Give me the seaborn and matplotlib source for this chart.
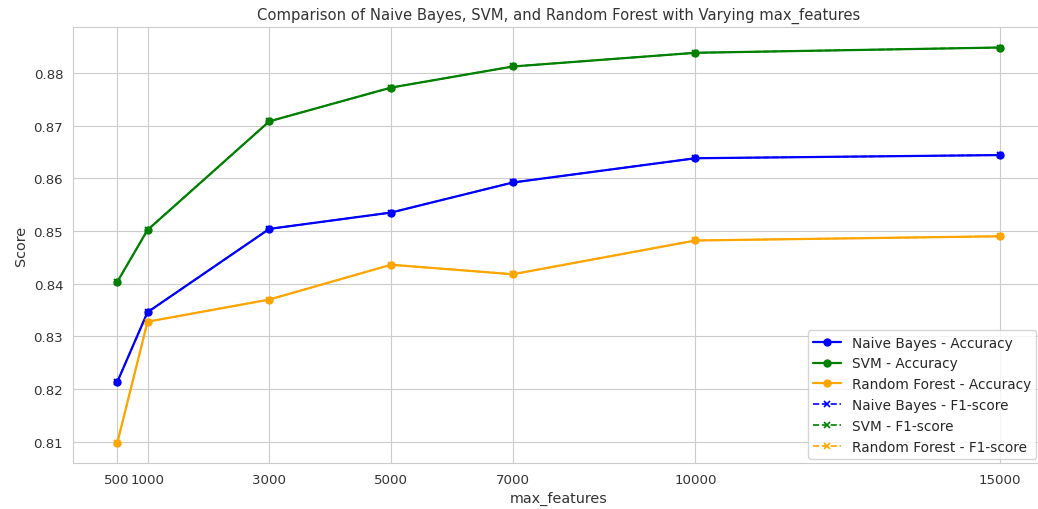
import matplotlib
matplotlib.use("Agg")
import matplotlib.pyplot as plt
import seaborn as sns

# max_features values tested
max_features = [500, 1000, 3000, 5000, 7000, 10000, 15000]

# accuracy per model
nb_acc  = [0.8213, 0.8346, 0.8504, 0.8535, 0.8592, 0.8638, 0.8644]
svm_acc = [0.8403, 0.8502, 0.8708, 0.8772, 0.8812, 0.8838, 0.8848]
rf_acc  = [0.8097, 0.8328, 0.8370, 0.8436, 0.8418, 0.8482, 0.8490]

# f1-score per model (sits right on top of the accuracy curves)
nb_f1  = [0.8213, 0.8346, 0.8504, 0.8535, 0.8592, 0.8638, 0.8644]
svm_f1 = [0.8403, 0.8502, 0.8708, 0.8772, 0.8812, 0.8838, 0.8848]
rf_f1  = [0.8097, 0.8328, 0.8370, 0.8436, 0.8418, 0.8482, 0.8490]

models = ["Naive Bayes", "SVM", "Random Forest"]
COLORS = {"Naive Bayes": "blue", "SVM": "green", "Random Forest": "orange"}

sns.set_style("whitegrid")
plt.rcParams["font.family"] = ["DejaVu Sans"]

fig = plt.figure(figsize=(10.38, 5.10), dpi=100)
ax = fig.add_axes([0.0703, 0.0902, 0.9355, 0.855])

for name, acc in zip(models, [nb_acc, svm_acc, rf_acc]):
    sns.lineplot(x=max_features, y=acc, marker="o", markersize=6, markeredgewidth=0,
                 color=COLORS[name], linewidth=1.6, label=f"{name} - Accuracy", ax=ax)
for name, f1 in zip(models, [nb_f1, svm_f1, rf_f1]):
    sns.lineplot(x=max_features, y=f1, marker="x", markersize=5, linestyle="--",
                 markeredgecolor=COLORS[name], markeredgewidth=1.2,
                 color=COLORS[name], linewidth=1.2, label=f"{name} - F1-score", ax=ax)

ax.set_xticks(max_features)
ax.set_xticklabels([str(v) for v in max_features])
ax.set_xlim(-225, 15725)
ax.set_ylim(0.8060, 0.8887)
ax.tick_params(labelsize=9.6, colors="#333333")
ax.set_xlabel("max_features", fontsize=10.4, color="#333333")
ax.set_ylabel("Score", fontsize=10.4, color="#333333")
ax.set_title("Comparison of Naive Bayes, SVM, and Random Forest with Varying max_features",
             fontsize=10.6, color="#333333", pad=6)
ax.legend(loc="lower right", fontsize=9.8, frameon=True, borderaxespad=0,
          bbox_to_anchor=(0.992, 0.009))

plt.savefig("out.png", dpi=100)
